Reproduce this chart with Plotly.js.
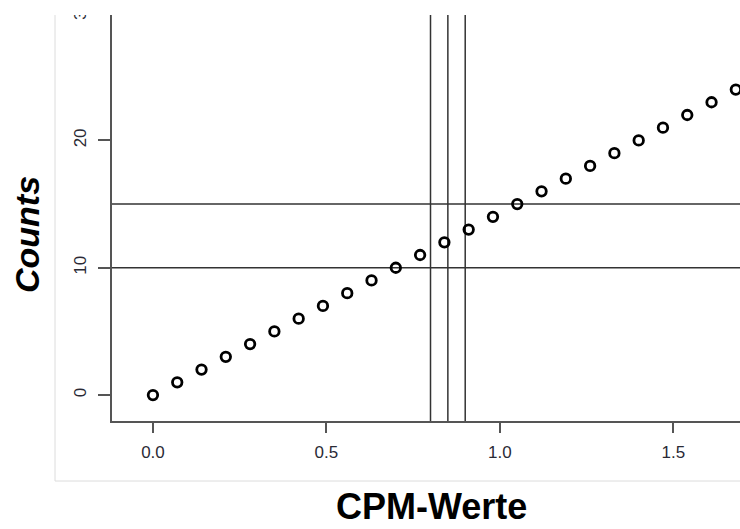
<!DOCTYPE html>
<html>
<head>
<meta charset="utf-8">
<script src="https://cdn.plot.ly/plotly-3.0.1.min.js"></script>
<style>html,body{margin:0;padding:0;background:#fff;}#chart{width:740px;height:529px;}</style>
</head>
<body>
<div id="chart"></div>
<script>
// Data
const cpmValues = [0.00, 0.07, 0.14, 0.21, 0.28, 0.35, 0.42, 0.49, 0.56, 0.63, 0.70, 0.77, 0.84, 0.91, 0.98, 1.05, 1.12, 1.19, 1.26, 1.33, 1.40, 1.47, 1.54, 1.61, 1.68];
const countValues = [0, 1, 2, 3, 4, 5, 6, 7, 8, 9, 10, 11, 12, 13, 14, 15, 16, 17, 18, 19, 20, 21, 22, 23, 24];
const vLines = [0.80, 0.85, 0.90];
const hLines = [10, 15];
const xTickVals = [0, 0.5, 1.0, 1.5];
const xTickText = ["0.0", "0.5", "1.0", "1.5"];
const yTickVals = [0, 10, 20, 30];
const yTickText = ["0", "10", "20", "30"];
const xTitle = "CPM-Werte";
const yTitle = "Counts";

const FONT = "Arial, 'Liberation Sans', sans-serif";

const shapes = [];
vLines.forEach(v => shapes.push({type: 'line', xref: 'x', yref: 'paper', x0: v, x1: v, y0: 0, y1: 1,
  line: {color: '#333', width: 1.5}, layer: 'below'}));
hLines.forEach(h => shapes.push({type: 'line', xref: 'paper', yref: 'y', x0: 0, x1: 1, y0: h, y1: h,
  line: {color: '#333', width: 1.5}, layer: 'below'}));
// white mask over the cropped top strip
shapes.push({type: 'rect', xref: 'paper', yref: 'paper', x0: -0.3, x1: 1.05, y0: 0.9902, y1: 1.05,
  fillcolor: '#fff', line: {width: 0}, layer: 'above'});
// light border of the cropped image
shapes.push({type: 'line', xref: 'paper', yref: 'paper', x0: (55 - 112) / 628, x1: (55 - 112) / 628,
  y0: (421 - 481) / 410, y1: 0.9902, line: {color: '#dcdcdc', width: 1}, layer: 'above'});
shapes.push({type: 'line', xref: 'paper', yref: 'paper', x0: (55 - 112) / 628, x1: 1.01,
  y0: (421 - 481) / 410, y1: (421 - 481) / 410, line: {color: '#dcdcdc', width: 1}, layer: 'above'});

const trace = {
  x: cpmValues, y: countValues, type: 'scatter', mode: 'markers',
  marker: {symbol: 'circle-open', size: 9.5, color: '#000', line: {color: '#000', width: 2.8}},
  cliponaxis: false, hoverinfo: 'skip'
};

const layout = {
  width: 740, height: 529,
  margin: {l: 112, r: 0, t: 11, b: 108},
  paper_bgcolor: '#fff', plot_bgcolor: '#fff',
  showlegend: false,
  xaxis: {
    range: [-0.118, 1.692], tickvals: xTickVals, ticktext: xTickText,
    showgrid: false, zeroline: false, showline: true, linecolor: '#555', linewidth: 2,
    ticks: 'outside', ticklen: 10, tickwidth: 2, tickcolor: '#555',
    tickfont: {family: FONT, size: 17, color: '#2a2a35'}, ticklabelstandoff: 5
  },
  yaxis: {
    range: [-2.04, 30.17], tickvals: yTickVals, ticktext: yTickText,
    showgrid: false, zeroline: false, showline: true, linecolor: '#555', linewidth: 2,
    ticks: 'outside', ticklen: 12, tickwidth: 2, tickcolor: '#555', tickangle: -90,
    tickfont: {family: FONT, size: 17, color: '#2a2a35'}, ticklabelstandoff: 5
  },
  shapes: shapes,
  annotations: [
    {text: xTitle, xref: 'paper', yref: 'paper', x: (431 - 112) / 628, y: (421 - 529) / 410,
     xanchor: 'center', yanchor: 'bottom', showarrow: false,
     font: {family: FONT, size: 36, color: '#000', weight: 'bold'}},
    {text: '<i>' + yTitle + '</i>', xref: 'paper', yref: 'paper', x: (27 - 112) / 628, y: (421 - 235) / 410,
     xanchor: 'center', yanchor: 'middle', showarrow: false, textangle: -90,
     font: {family: FONT, size: 34, color: '#000', weight: 'bold'}}
  ]
};

Plotly.newPlot('chart', [trace], layout, {displayModeBar: false, staticPlot: true});
</script>
</body>
</html>
